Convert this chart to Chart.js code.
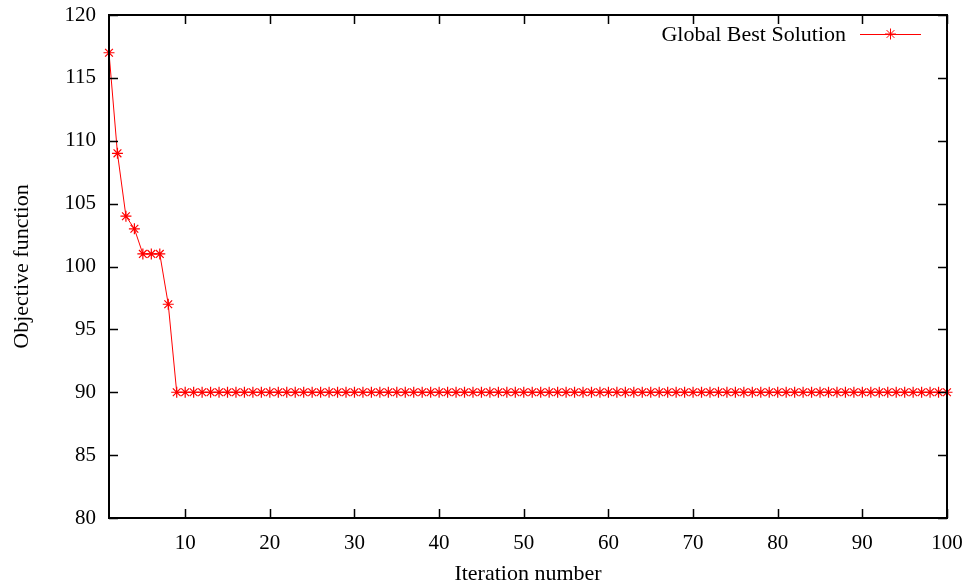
<!DOCTYPE html>
<html>
<head>
<meta charset="utf-8">
<script src="https://cdn.jsdelivr.net/npm/chart.js@4/dist/chart.umd.min.js"></script>
<style>
  html, body { margin: 0; padding: 0; background: #fff; }
  #wrap { width: 971px; height: 588px; }
</style>
</head>
<body>
<div id="wrap"><canvas id="convChart" width="971" height="588"></canvas></div>
<script>
const iterations = [
  1, 2, 3, 4, 5, 6, 7, 8, 9, 10, 11, 12, 13, 14, 15, 16, 17, 18, 19, 20,
  21, 22, 23, 24, 25, 26, 27, 28, 29, 30, 31, 32, 33, 34, 35, 36, 37, 38, 39, 40,
  41, 42, 43, 44, 45, 46, 47, 48, 49, 50, 51, 52, 53, 54, 55, 56, 57, 58, 59, 60,
  61, 62, 63, 64, 65, 66, 67, 68, 69, 70, 71, 72, 73, 74, 75, 76, 77, 78, 79, 80,
  81, 82, 83, 84, 85, 86, 87, 88, 89, 90, 91, 92, 93, 94, 95, 96, 97, 98, 99, 100
];
const globalBest = [
  117, 109, 104, 103, 101, 101, 101, 97, 90, 90, 90, 90, 90, 90, 90, 90, 90, 90, 90, 90,
  90, 90, 90, 90, 90, 90, 90, 90, 90, 90, 90, 90, 90, 90, 90, 90, 90, 90, 90, 90,
  90, 90, 90, 90, 90, 90, 90, 90, 90, 90, 90, 90, 90, 90, 90, 90, 90, 90, 90, 90,
  90, 90, 90, 90, 90, 90, 90, 90, 90, 90, 90, 90, 90, 90, 90, 90, 90, 90, 90, 90,
  90, 90, 90, 90, 90, 90, 90, 90, 90, 90, 90, 90, 90, 90, 90, 90, 90, 90, 90, 90
];
const xTicks = [10, 20, 30, 40, 50, 60, 70, 80, 90, 100];
const yTicks = [80, 85, 90, 95, 100, 105, 110, 115, 120];
const seriesName = 'Global Best Solution';

const FONT = 'Liberation Serif, Times New Roman, serif';
const RED = '#ff0000';

// gnuplot-like frame with inward ticks on all four sides + legend inside the plot
const framePlugin = {
  id: 'frame',
  afterDraw(chart) {
    const { ctx, chartArea: a, scales } = chart;
    const tick = 9;
    ctx.save();
    ctx.strokeStyle = '#000';
    ctx.lineWidth = 2;
    ctx.strokeRect(a.left, a.top, a.right - a.left, a.bottom - a.top);
    ctx.lineWidth = 1.5;
    ctx.beginPath();
    yTicks.forEach(v => {
      const y = Math.round(scales.y.getPixelForValue(v)) + 0.5;
      ctx.moveTo(a.left, y); ctx.lineTo(a.left + tick, y);
      ctx.moveTo(a.right, y); ctx.lineTo(a.right - tick, y);
    });
    xTicks.forEach(v => {
      const x = Math.round(scales.x.getPixelForValue(v)) + 0.5;
      ctx.moveTo(x, a.bottom); ctx.lineTo(x, a.bottom - tick);
      ctx.moveTo(x, a.top); ctx.lineTo(x, a.top + tick);
    });
    ctx.stroke();

    // legend
    const ly = 34;
    const x0 = a.right - 87, x1 = a.right - 26;
    ctx.fillStyle = '#000';
    ctx.font = '22px ' + FONT;
    ctx.textAlign = 'right';
    ctx.textBaseline = 'middle';
    ctx.fillText(seriesName, x0 - 14, ly + 1);
    ctx.strokeStyle = RED;
    ctx.lineWidth = 1;
    ctx.beginPath();
    ctx.moveTo(x0, ly + 0.5); ctx.lineTo(x1, ly + 0.5);
    const cx = (x0 + x1) / 2, r = 5.5, d = r * 0.7071;
    ctx.moveTo(cx - r, ly); ctx.lineTo(cx + r, ly);
    ctx.moveTo(cx, ly - r); ctx.lineTo(cx, ly + r);
    ctx.moveTo(cx - d, ly - d); ctx.lineTo(cx + d, ly + d);
    ctx.moveTo(cx - d, ly + d); ctx.lineTo(cx + d, ly - d);
    ctx.stroke();
    ctx.restore();
  }
};

const noOverflow = s => {
  s.paddingTop = 0; s.paddingBottom = 0; s.paddingLeft = 0; s.paddingRight = 0;
};

const ctx = document.getElementById('convChart').getContext('2d');
new Chart(ctx, {
  type: 'line',
  data: {
    datasets: [{
      label: seriesName,
      data: iterations.map((it, i) => ({ x: it, y: globalBest[i] })),
      borderColor: RED,
      backgroundColor: RED,
      borderWidth: 1,
      pointStyle: 'star',
      pointRadius: 5.5,
      pointBorderWidth: 1.2,
      pointBorderColor: RED,
      tension: 0,
      clip: false,
    }],
  },
  options: {
    responsive: false,
    animation: false,
    layout: { padding: { top: 15, right: 24, left: 0, bottom: 0 } },
    plugins: {
      legend: { display: false },
      tooltip: { enabled: false },
    },
    scales: {
      x: {
        type: 'linear',
        min: 1,
        max: 100,
        afterBuildTicks: s => { s.ticks = xTicks.map(v => ({ value: v })); },
        afterFit: s => { s.height = 70; noOverflow(s); },
        grid: { display: false, drawTicks: false },
        border: { display: false },
        ticks: { color: '#000', font: { family: FONT, size: 21 }, padding: 13, maxRotation: 0 },
        title: {
          display: true, text: 'Iteration number', color: '#000',
          font: { family: FONT, size: 22 }, padding: { top: 0, bottom: 1 },
        },
      },
      y: {
        type: 'linear',
        min: 80,
        max: 120,
        afterBuildTicks: s => { s.ticks = yTicks.map(v => ({ value: v })); },
        afterFit: s => { s.width = 109; noOverflow(s); },
        grid: { display: false, drawTicks: false },
        border: { display: false },
        ticks: { color: '#000', font: { family: FONT, size: 21 }, padding: 13 },
        title: {
          display: true, text: 'Objective function', color: '#000',
          font: { family: FONT, size: 22 }, padding: { top: 9, bottom: 0 },
        },
      },
    },
  },
  plugins: [framePlugin],
});
</script>
</body>
</html>
